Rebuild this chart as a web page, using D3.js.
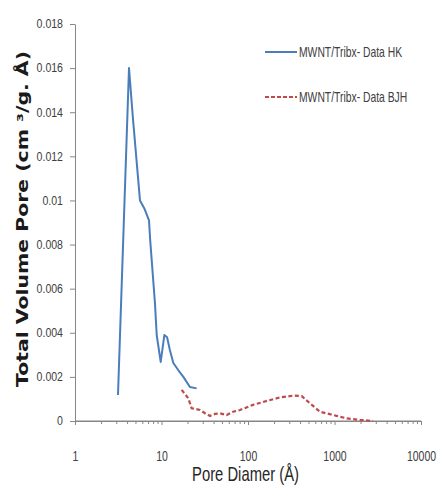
<!DOCTYPE html>
<html>
<head>
<meta charset="utf-8">
<script src="https://cdn.jsdelivr.net/npm/d3@7"></script>
<style>
  html, body { margin: 0; padding: 0; background: #fff; }
  svg { display: block; }
  .narrow { font-family: "Liberation Sans", Arial, sans-serif; }
</style>
</head>
<body>
<svg id="chart" width="438" height="486"></svg>
<script>
// Pore size distribution, HK (micropores) and BJH (meso/macropores)
const hkDiameter = [3.14, 4.21, 4.68, 5.64, 6.4, 7.17, 7.4, 8.4, 8.8, 9.79, 10.8, 11.6, 12.5, 13.7, 15.6, 17.9, 21.3, 25.5];
const hkVolume   = [0.00118, 0.0160, 0.0137, 0.0100, 0.0096, 0.0091, 0.0082, 0.00535, 0.0039, 0.00268, 0.0039, 0.0038, 0.00322, 0.00263, 0.00231, 0.0020, 0.00154, 0.00148];

const bjhDiameter = [17.1, 20.4, 22.3, 27.9, 31.8, 36.4, 41.5, 47.5, 56.7, 67.1, 80.9, 114, 165, 234, 334, 418, 521, 680, 1060, 1384, 1972, 2790];
const bjhVolume   = [0.00141, 0.00103, 0.00058, 0.0005, 0.00035, 0.00023, 0.00032, 0.00035, 0.00027, 0.00042, 0.0005, 0.00073, 0.00091, 0.00107, 0.00115, 0.00113, 0.0008, 0.00042, 0.00023, 0.00012, 0.00005, 0.0];

const xTickValues = [1, 10, 100, 1000, 10000];
const yTickValues = [0, 0.002, 0.004, 0.006, 0.008, 0.01, 0.012, 0.014, 0.016, 0.018];
const yTickLabels = ["0", "0.002", "0.004", "0.006", "0.008", "0.01", "0.012", "0.014", "0.016", "0.018"];

const seriesNames = ["MWNT/Tribx- Data HK", "MWNT/Tribx- Data BJH"];
const seriesColors = ["#4A7EBB", "#BE4B48"];

const svg = d3.select("#chart");

const x = d3.scaleLog().domain([1, 10000]).range([75, 421]);
const y = d3.scaleLinear().domain([0, 0.018]).range([421, 24]);

const axisColor = "#868686";
const labelColor = "#404040";

// draw a horizontally squeezed text (condensed look) at (px, py)
function squeezedText(parent, px, py, str, size, sx, anchor) {
  return parent.append("text")
    .attr("class", "narrow")
    .attr("transform", `translate(${px},${py}) scale(${sx},1)`)
    .attr("text-anchor", anchor || "start")
    .attr("font-size", size)
    .text(str);
}

// minor x ticks (2..9 in each decade)
const minor = [];
for (let p = 0; p < 4; p++) for (let m = 2; m <= 9; m++) minor.push(m * Math.pow(10, p));

const gxMinor = svg.append("g").attr("transform", `translate(0,${y(0)})`)
  .call(d3.axisBottom(x).tickValues(minor).tickFormat("").tickSize(3).tickSizeOuter(0));

const gx = svg.append("g").attr("transform", `translate(0,${y(0)})`)
  .call(d3.axisBottom(x).tickValues(xTickValues).tickFormat(d3.format("d")).tickSize(4).tickPadding(25).tickSizeOuter(0));

const gy = svg.append("g").attr("transform", `translate(${x(1)},0)`)
  .call(d3.axisLeft(y).tickValues(yTickValues).tickFormat((d, i) => yTickLabels[i]).tickSize(5).tickPadding(7).tickSizeOuter(0));

[gxMinor, gx, gy].forEach(g => {
  g.selectAll(".domain").attr("stroke", axisColor).attr("stroke-width", 1);
  g.selectAll(".tick line").attr("stroke", axisColor);
});
gx.selectAll("text").attr("class", "narrow").attr("font-size", 15).attr("fill", labelColor)
  .attr("transform", "scale(0.7,1)");
gy.selectAll("text").attr("class", "narrow").attr("font-size", 12).attr("fill", labelColor)
  .attr("x", -12 / 0.88).attr("transform", "scale(0.88,1)");
gx.select(".domain").attr("d", `M${x(1)},0H${x(10000)}`);

// data lines
const line = d3.line().x(d => x(d[0])).y(d => y(d[1])).curve(d3.curveLinear);
const hk = hkDiameter.map((d, i) => [d, hkVolume[i]]);
const bjh = bjhDiameter.map((d, i) => [d, bjhVolume[i]]);

svg.append("path").datum(bjh).attr("d", line)
  .attr("fill", "none").attr("stroke", seriesColors[1]).attr("stroke-width", 2.2)
  .attr("stroke-dasharray", "4,2.5");

svg.append("path").datum(hk).attr("d", line)
  .attr("fill", "none").attr("stroke", seriesColors[0]).attr("stroke-width", 2)
  .attr("stroke-linejoin", "round");

// legend
const legend = svg.append("g");
seriesNames.forEach((name, i) => {
  const ly = 52 + i * 45;
  legend.append("line").attr("x1", 265).attr("x2", 297).attr("y1", ly).attr("y2", ly)
    .attr("stroke", seriesColors[i]).attr("stroke-width", 2)
    .attr("stroke-dasharray", i === 1 ? "4,2" : null);
  squeezedText(legend, 299, ly + 5, name, 14, 0.74).attr("fill", labelColor);
});

// axis titles
squeezedText(svg, 245.5, 481, "Pore Diamer (Å)", 20, 0.74, "middle").attr("fill", "#262626");

svg.append("text")
  .attr("transform", "translate(28,219) rotate(-90)")
  .attr("text-anchor", "middle")
  .attr("font-family", "DejaVu Sans, Verdana, sans-serif").attr("font-weight", "bold")
  .attr("font-size", 15).attr("fill", "#1a1a1a")
  .attr("textLength", 336).attr("lengthAdjust", "spacingAndGlyphs")
  .text("Total Volume Pore (cm ³/g. Å)");
</script>
</body>
</html>
